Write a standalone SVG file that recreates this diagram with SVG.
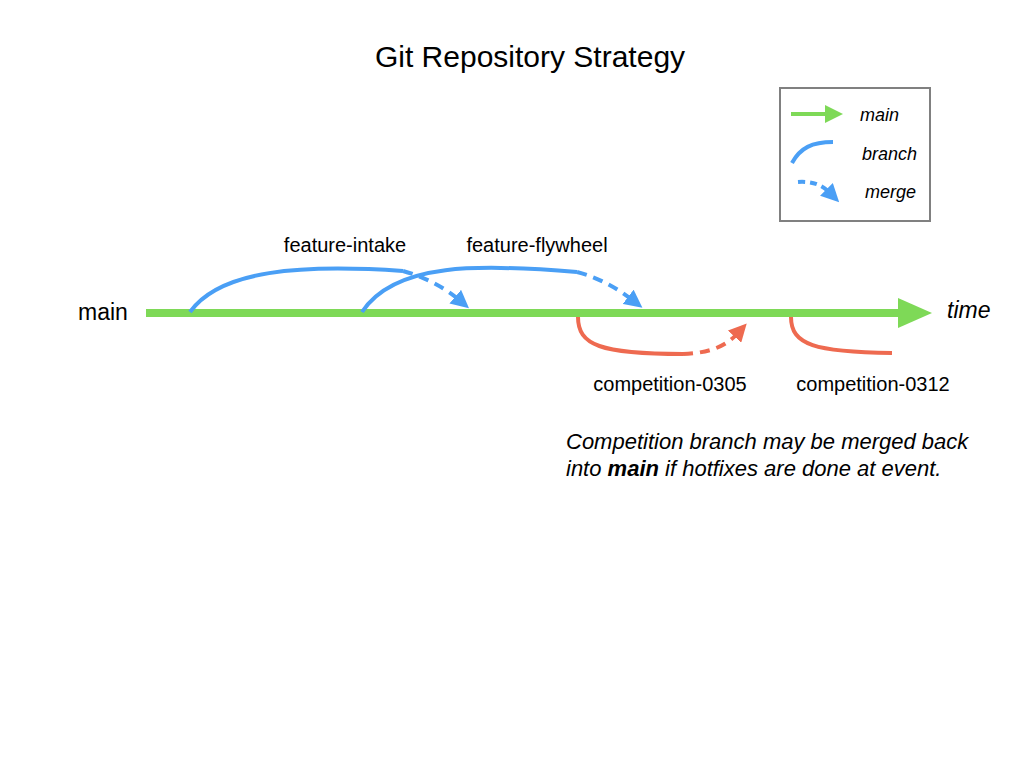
<svg xmlns="http://www.w3.org/2000/svg" width="1024" height="768" viewBox="0 0 1024 768">
<style>
text{font-family:"Liberation Sans",Arial,sans-serif;fill:#000}
.lbl{font-size:20px;text-anchor:middle}
.it{font-style:italic}
.blue{fill:none;stroke:#4a9ff5;stroke-width:4;stroke-linecap:butt}
.red{fill:none;stroke:#ee6a50;stroke-width:4}
.dash{stroke-dasharray:10 7}
</style>
<defs>
<marker id="ab" viewBox="0 0 10 10" refX="2" refY="5" markerWidth="4.5" markerHeight="4.5" orient="auto" markerUnits="strokeWidth"><path d="M0,0 L10,5 L0,10 Z" fill="#4a9ff5"/></marker>
<marker id="ar" viewBox="0 0 10 10" refX="2" refY="5" markerWidth="4.5" markerHeight="4.5" orient="auto" markerUnits="strokeWidth"><path d="M0,0 L10,5 L0,10 Z" fill="#ee6a50"/></marker>
</defs>
<rect width="1024" height="768" fill="#fff"/>
<text x="530" y="67" font-size="30" text-anchor="middle">Git Repository Strategy</text>

<g id="legend">
<rect x="780" y="88" width="150" height="133" fill="#fff" stroke="#808080" stroke-width="2"/>
<line x1="791" y1="114" x2="827" y2="114" stroke="#7ed957" stroke-width="4"/>
<polygon points="825,105 843,114 825,123" fill="#7ed957"/>
<text x="860" y="121" font-size="18" class="it">main</text>
<path d="M792,163 C800,148 812,142 833,142" class="blue"/>
<text x="862" y="160" font-size="18" class="it">branch</text>
<path d="M798,182 C812,181 822,185 829,192" class="blue" stroke-width="3" stroke-dasharray="7 5" marker-end="url(#ab)"/>
<text x="865" y="198" font-size="18" class="it">merge</text>
</g>

<g id="main">
<line x1="146" y1="313" x2="900" y2="313" stroke="#7ed957" stroke-width="8"/>
<polygon points="898,298 932,313 898,328" fill="#7ed957"/>
<text x="78" y="320" font-size="23">main</text>
<text x="947" y="318" font-size="23" class="it">time</text>
</g>

<g id="connectors">
<path d="M190,312 C220,270 300,264 403,271" class="blue"/>
<path d="M403,271 C425,277 445,288 458,299" class="blue dash" marker-end="url(#ab)"/>
<path d="M362,312 C395,262 480,264 577,272" class="blue"/>
<path d="M577,272 C600,278 618,289 631,299" class="blue dash" marker-end="url(#ab)"/>
<path d="M578,317 C578,345 600,354 683,354" class="red"/>
<path d="M683,354 C710,353 726,346 737,334" class="red dash" marker-end="url(#ar)"/>
<path d="M791,317 C791,345 815,352 892,353" class="red"/>
</g>

<g id="labels">
<text x="345" y="252" class="lbl">feature-intake</text>
<text x="537" y="252" class="lbl">feature-flywheel</text>
<text x="670" y="391" class="lbl">competition-0305</text>
<text x="873" y="391" class="lbl">competition-0312</text>
</g>

<g id="note">
<text x="566" y="449" class="it" font-size="22">Competition branch may be merged back</text>
<text x="566" y="476" class="it" font-size="22">into <tspan font-weight="bold">main</tspan> if hotfixes are done at event.</text>
</g>
</svg>
